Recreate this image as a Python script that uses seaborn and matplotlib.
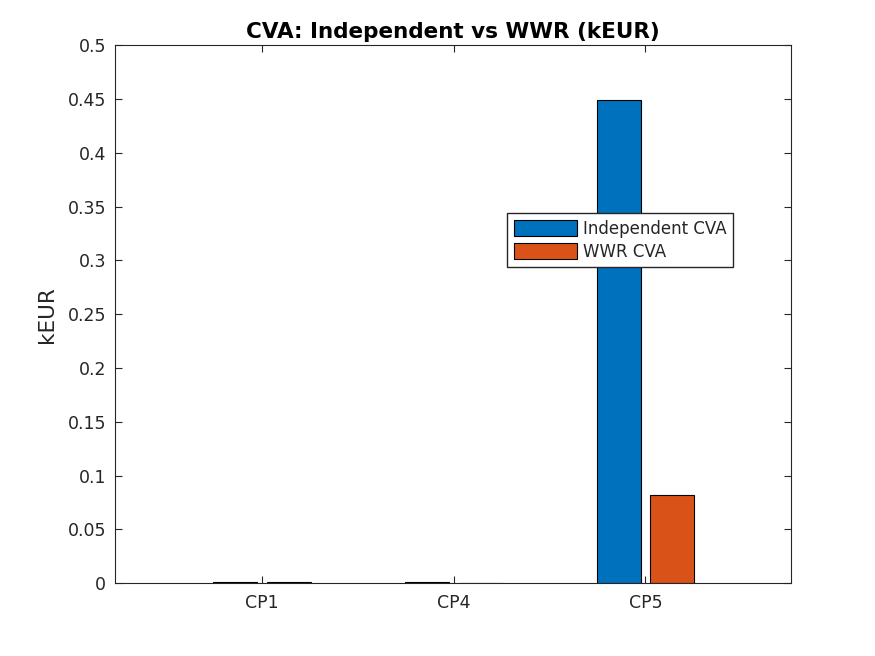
import numpy as np
import pandas as pd
import matplotlib
matplotlib.use('Agg')
import matplotlib.pyplot as plt
import seaborn as sns
from matplotlib.ticker import FuncFormatter

# data
counterparties = ['CP1', 'CP4', 'CP5']
independent_cva = [0.0012, 0.0012, 0.449]
wwr_cva = [0.0012, 0.0, 0.082]
series_names = ['Independent CVA', 'WWR CVA']
colors = ['#0072BD', '#D95319']

df = pd.DataFrame({
    'cp': counterparties * 2,
    'value': independent_cva + wwr_cva,
    'series': [series_names[0]] * 3 + [series_names[1]] * 3,
})

sns.set_style('white')
plt.rcParams['font.family'] = ['DejaVu Sans']

fig = plt.figure(figsize=(8.75, 6.56), dpi=100)
ax = fig.add_axes([0.131, 0.111, 0.773, 0.820])

sns.barplot(data=df, x='cp', y='value', hue='series', palette=colors,
            width=0.56, gap=0.18, edgecolor='black', linewidth=0.8,
            saturation=1, ax=ax)

ax.set_xlim(-0.77, 2.76)
ax.set_ylim(0, 0.5)
ax.set_yticks(np.arange(0, 0.501, 0.05))
ax.yaxis.set_major_formatter(FuncFormatter(lambda v, p: f'{v:g}'))
ax.set_xlabel('')
ax.set_ylabel('kEUR', fontsize=15.5, color='#262626', labelpad=8)
ax.set_title('CVA: Independent vs WWR (kEUR)', fontsize=15.5, fontweight='bold',
             color='black', pad=5)

ax.tick_params(direction='in', length=5, width=0.8, labelsize=12.5, colors='#262626',
               top=True, right=True, bottom=True, left=True)
ax.tick_params(axis='y', pad=6)
ax.tick_params(axis='x', pad=8)
for s in ax.spines.values():
    s.set_visible(True)
    s.set_color('#262626')
    s.set_linewidth(0.8)

leg = ax.legend(loc='upper left', bbox_to_anchor=(0.580, 0.688), fontsize=12,
                frameon=True, fancybox=False, framealpha=1, edgecolor='#262626',
                handlelength=3.8, handleheight=1.08, borderpad=0.4,
                labelspacing=0.3, handletextpad=0.36, borderaxespad=0)
leg.get_frame().set_linewidth(1.0)

fig.savefig('out.png', dpi=100, facecolor='white')
